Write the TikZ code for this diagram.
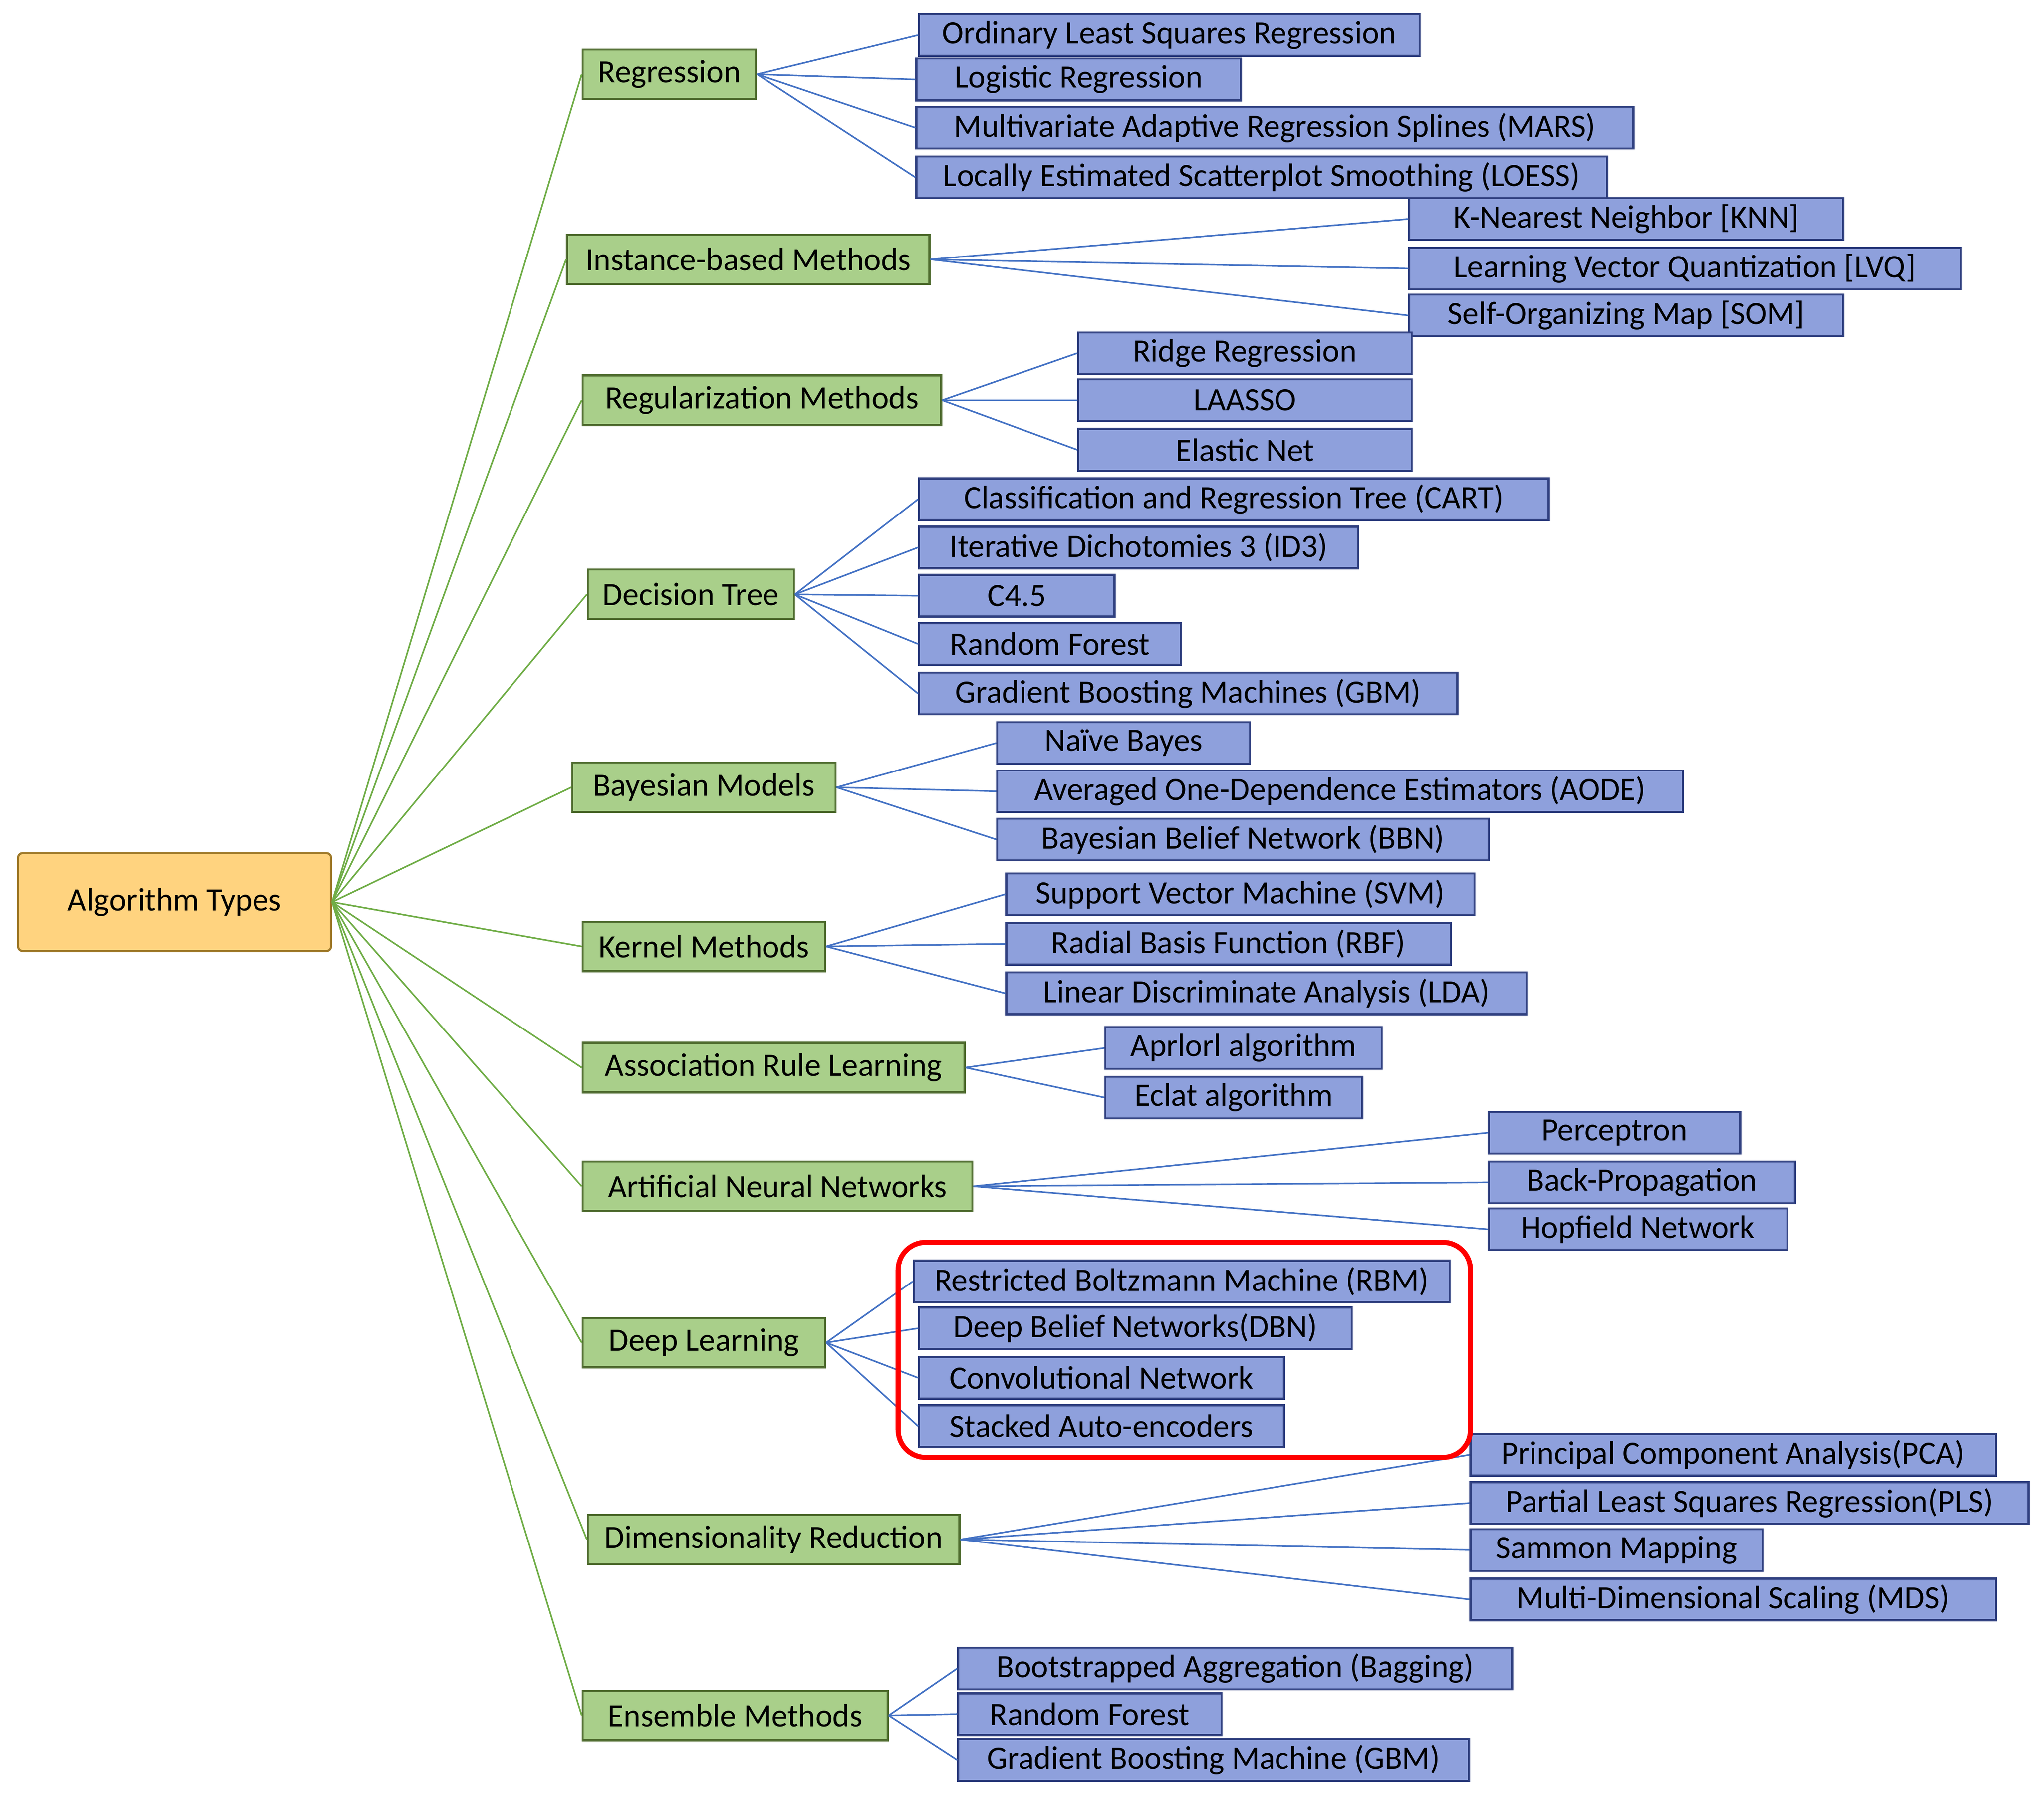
\documentclass[tikz,border=0pt]{standalone}
\usepackage{fontspec}
\setmainfont{Carlito}
\definecolor{leaffill}{HTML}{8EA0DC}
\definecolor{leafdraw}{HTML}{2F3F7F}
\definecolor{grpfill}{HTML}{A9CF8A}
\definecolor{grpdraw}{HTML}{4E6B2E}
\definecolor{rootfill}{HTML}{FFD37F}
\definecolor{rootdraw}{HTML}{A07A2A}
\definecolor{gline}{HTML}{70AD47}
\definecolor{bline}{HTML}{4472C4}
\begin{document}
\begin{tikzpicture}[x=0.02cm,y=-0.02cm,
  base/.style={draw, line width=0.9pt, inner sep=0pt, font=\fontsize{14.2}{15}\selectfont},
  root/.style={base, fill=rootfill, draw=rootdraw, rounded corners=2pt},
  grp/.style={base, fill=grpfill, draw=grpdraw, minimum height=0.76cm},
  leaf/.style={base, fill=leaffill, draw=leafdraw, minimum height=0.64cm},
  gl/.style={draw=gline, line width=0.7pt},
  bl/.style={draw=bline, line width=0.7pt}]
\useasboundingbox (0,0) rectangle (1568,1380);
\newcommand\bx[6]{\node[#6, minimum width={(#3-#2)*0.02cm}] (#1) at ({(#2+#3)/2},#4) {#5};}
\bx{root}{14}{254}{692}{Algorithm Types}{root, minimum height=1.5cm}
% groups
\bx{g1}{447}{580}{57}{Regression}{grp}
\bx{g2}{435}{713}{199}{Instance-based Methods}{grp}
\bx{g3}{447}{722}{307}{Regularization Methods}{grp}
\bx{g4}{451}{609}{456}{Decision Tree}{grp}
\bx{g5}{439}{641}{604}{Bayesian Models}{grp}
\bx{g6}{447}{633}{726}{Kernel Methods}{grp}
\bx{g7}{447}{740}{819}{Association Rule Learning}{grp}
\bx{g8}{447}{746}{910}{Artificial Neural Networks}{grp}
\bx{g9}{447}{633}{1030}{Deep Learning}{grp}
\bx{g10}{451}{736}{1181}{Dimensionality Reduction}{grp}
\bx{g11}{447}{681}{1316}{Ensemble Methods}{grp}
\foreach \g in {1,...,11} \draw[gl] (root.east) -- (g\g.west);
% leaves
\bx{a1}{705}{1089}{27}{Ordinary Least Squares Regression}{leaf}
\bx{a2}{703}{952}{61}{Logistic Regression}{leaf}
\bx{a3}{703}{1253}{98}{Multivariate Adaptive Regression Splines (MARS)}{leaf}
\bx{a4}{703}{1233}{136}{Locally Estimated Scatterplot Smoothing (LOESS)}{leaf}
\bx{b1}{1081}{1414}{168}{K-Nearest Neighbor [KNN]}{leaf}
\bx{b2}{1081}{1504}{206}{Learning Vector Quantization [LVQ]}{leaf}
\bx{b3}{1081}{1414}{242}{Self-Organizing Map [SOM]}{leaf}
\bx{c1}{827}{1083}{271}{Ridge Regression}{leaf}
\bx{c2}{827}{1083}{307}{LAASSO}{leaf}
\bx{c3}{827}{1083}{345}{Elastic Net}{leaf}
\bx{d1}{705}{1188}{383}{Classification and Regression Tree (CART)}{leaf}
\bx{d2}{705}{1042}{420}{Iterative Dichotomies 3 (ID3)}{leaf}
\bx{d3}{705}{855}{457}{C4.5}{leaf}
\bx{d4}{705}{906}{494}{Random Forest}{leaf}
\bx{d5}{705}{1118}{532}{Gradient Boosting Machines (GBM)}{leaf}
\bx{e1}{765}{959}{570}{Naïve Bayes}{leaf}
\bx{e2}{765}{1291}{607}{Averaged One-Dependence Estimators (AODE)}{leaf}
\bx{e3}{765}{1142}{644}{Bayesian Belief Network (BBN)}{leaf}
\bx{f1}{772}{1131}{686}{Support Vector Machine (SVM)}{leaf}
\bx{f2}{772}{1113}{724}{Radial Basis Function (RBF)}{leaf}
\bx{f3}{772}{1171}{762}{Linear Discriminate Analysis (LDA)}{leaf}
\bx{h1}{848}{1060}{804}{Aprlorl algorithm}{leaf}
\bx{h2}{848}{1045}{842}{Eclat algorithm}{leaf}
\bx{i1}{1142}{1335}{869}{Perceptron}{leaf}
\bx{i2}{1142}{1377}{907}{Back-Propagation}{leaf}
\bx{i3}{1142}{1371}{943}{Hopfield Network}{leaf}
\bx{j1}{701}{1112}{983}{Restricted Boltzmann Machine (RBM)}{leaf}
\bx{j2}{705}{1037}{1019}{Deep Belief Networks(DBN)}{leaf}
\bx{j3}{705}{985}{1057}{Convolutional Network}{leaf}
\bx{j4}{705}{985}{1094}{Stacked Auto-encoders}{leaf}
\bx{k1}{1128}{1531}{1116}{Principal Component Analysis(PCA)}{leaf}
\bx{k2}{1128}{1556}{1153}{Partial Least Squares Regression(PLS)}{leaf}
\bx{k3}{1128}{1352}{1189}{Sammon Mapping}{leaf}
\bx{k4}{1128}{1531}{1227}{Multi-Dimensional Scaling (MDS)}{leaf}
\bx{l1}{735}{1160}{1280}{Bootstrapped Aggregation (Bagging)}{leaf}
\bx{l2}{735}{937}{1315}{Random Forest}{leaf}
\bx{l3}{735}{1127}{1350}{Gradient Boosting Machine (GBM)}{leaf}
\foreach \p/\c/\n in {g1/a/4,g2/b/3,g3/c/3,g4/d/5,g5/e/3,g6/f/3,g7/h/2,g8/i/3,g9/j/4,g10/k/4,g11/l/3}
  \foreach \k in {1,...,\n} \draw[bl] (\p.east) -- (\c\k.west);
\node[draw=red, line width=2.2pt, rounded corners=12pt, minimum width={439*0.02cm}, minimum height={165*0.02cm}] (hl) at (908.5,1035.5) {};
\end{tikzpicture}
\end{document}
